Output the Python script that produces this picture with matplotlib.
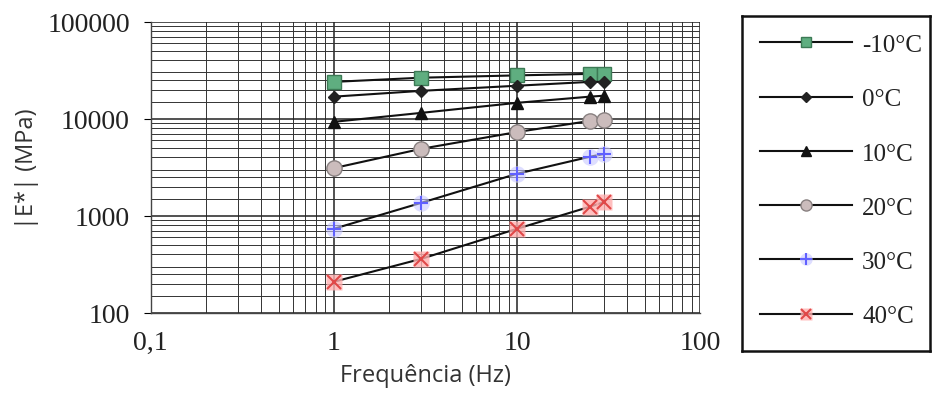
import matplotlib
matplotlib.use("Agg")
import matplotlib.pyplot as plt
from matplotlib.ticker import LogLocator, FixedLocator, FixedFormatter, NullFormatter
from matplotlib.lines import Line2D
from matplotlib.legend_handler import HandlerTuple

freq = [1, 3, 10, 25, 30]
e_m10 = [24000, 26500, 28000, 29000, 29000]
e_0 = [16900, 19400, 21900, 24000, 24000]
e_10 = [9300, 11500, 14600, 16900, 17300]
e_20 = [3100, 4900, 7300, 9500, 9800]
e_30 = [735, 1360, 2710, 4060, 4350]
e_40 = [209, 360, 735, 1240, 1390]
labels = ["-10°C", "0°C", "10°C", "20°C", "30°C", "40°C"]
xticks = [0.1, 1, 10, 100]
xticklabels = ["0,1", "1", "10", "100"]
yticks = [100, 1000, 10000, 100000]
yticklabels = ["100", "1000", "10000", "100000"]

fig = plt.figure(figsize=(9.36, 4.06), dpi=100)
ax = fig.add_axes([0.161, 0.227, 0.587, 0.717])
ax.set_xscale("log")
ax.set_yscale("log")
ax.set_xlim(0.1, 100)
ax.set_ylim(100, 100000)

ax.xaxis.set_major_locator(FixedLocator(xticks))
ax.xaxis.set_major_formatter(FixedFormatter(xticklabels))
ax.yaxis.set_major_locator(FixedLocator(yticks))
ax.yaxis.set_major_formatter(FixedFormatter(yticklabels))
ax.xaxis.set_minor_locator(LogLocator(base=10, subs=range(2, 10)))
ax.yaxis.set_minor_locator(LogLocator(base=10, subs=[1.5, 2, 2.5, 3, 4, 5, 6, 7, 8, 9]))
ax.xaxis.set_minor_formatter(NullFormatter())
ax.yaxis.set_minor_formatter(NullFormatter())
ax.grid(True, which="major", color="#222222", linewidth=1.1)
ax.grid(True, which="minor", color="#333333", linewidth=0.7)
ax.tick_params(which="minor", length=0)
ax.tick_params(axis="x", which="major", length=0, pad=12)
ax.tick_params(axis="y", which="major", length=5, pad=10)
for lab in ax.get_xticklabels() + ax.get_yticklabels():
    lab.set_fontfamily("Liberation Serif")
    lab.set_fontsize(20)
    lab.set_color("#222222")
for s in ["top", "right"]:
    ax.spines[s].set_visible(False)
for s in ["left", "bottom"]:
    ax.spines[s].set_color("#444444")
    ax.spines[s].set_linewidth(1.0)

ax.set_xlabel("Frequência (Hz)", fontfamily="Open Sans", fontsize=17, color="#333333", labelpad=6)
ax.set_ylabel("|E*| (MPa)", fontfamily="Open Sans", fontsize=17, color="#333333", labelpad=6)

lc = "#111111"
ax.plot(freq, e_m10, color=lc, lw=1.5, marker="s", ms=10, mfc="#5fae80", mec="#3c7a55", zorder=5)
ax.plot(freq, e_0, color=lc, lw=1.5, marker="D", ms=6, mfc="#222222", mec="#222222", zorder=5)
ax.plot(freq, e_10, color=lc, lw=1.5, marker="^", ms=9, mfc="#111111", mec="#111111", zorder=5)
ax.plot(freq, e_20, color=lc, lw=1.5, marker="o", ms=11, mfc="#cbbcbc", mec="#888080", zorder=5)
ax.plot(freq, e_30, color=lc, lw=1.5, zorder=4)
ax.plot(freq, e_30, ls="none", marker="o", ms=12, mfc="#c8c8ff", mec="none", alpha=0.6, zorder=5)
ax.plot(freq, e_30, ls="none", marker="+", ms=10, mew=1.5, color="#6060ff", zorder=6)
ax.plot(freq, e_40, color=lc, lw=1.5, zorder=4)
ax.plot(freq, e_40, ls="none", marker="s", ms=12, mfc="#ffb0b0", mec="none", alpha=0.8, zorder=5)
ax.plot(freq, e_40, ls="none", marker="x", ms=10, mew=1.5, color="#e04848", zorder=6)

# legend box
lax = fig.add_axes([0.793, 0.133, 0.201, 0.825])
lax.set_xticks([])
lax.set_yticks([])
for s in lax.spines.values():
    s.set_linewidth(1.8)
    s.set_color("#111111")
lax.set_facecolor("white")

line = Line2D([], [], color=lc, lw=1.5)
handles = [
    Line2D([], [], color=lc, lw=1.5, marker="s", ms=7, mfc="#5fae80", mec="#3c7a55"),
    Line2D([], [], color=lc, lw=1.5, marker="D", ms=5, mfc="#222222", mec="#222222"),
    Line2D([], [], color=lc, lw=1.5, marker="^", ms=7, mfc="#111111", mec="#111111"),
    Line2D([], [], color=lc, lw=1.5, marker="o", ms=8, mfc="#cbbcbc", mec="#888080"),
    (line, Line2D([], [], ls="none", marker="o", ms=9, mfc="#c8c8ff", mec="none", alpha=0.6),
     Line2D([], [], ls="none", marker="+", ms=8, mew=1.5, color="#6060ff")),
    (line, Line2D([], [], ls="none", marker="s", ms=9, mfc="#ffb0b0", mec="none", alpha=0.8),
     Line2D([], [], ls="none", marker="x", ms=7, mew=1.5, color="#e04848")),
]
leg = lax.legend(handles, labels, loc="upper left", bbox_to_anchor=(0.0, 1.0),
                 frameon=False, handlelength=3.7, handletextpad=0.4, labelspacing=1.27,
                 borderaxespad=0.3, prop={"family": "Liberation Serif", "size": 18},
                 handler_map={tuple: HandlerTuple(ndivide=1, pad=0)})
for t in leg.get_texts():
    t.set_color("#222222")

fig.savefig("out.png", dpi=100)
